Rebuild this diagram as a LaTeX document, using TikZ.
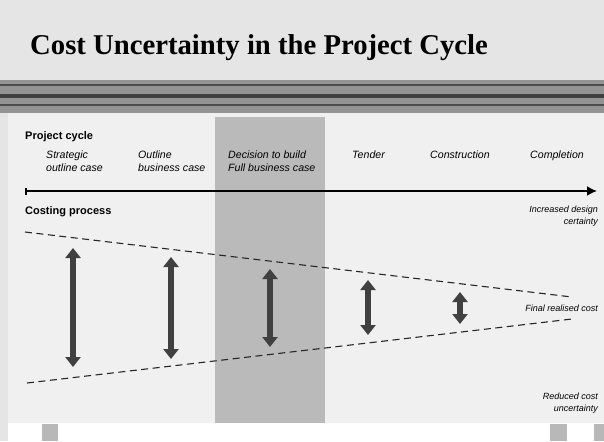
\documentclass[tikz,border=0pt]{standalone}
\usepackage{fontspec}
\setmainfont{Liberation Sans}
\newfontfamily\titlefont{Liberation Serif}
\usetikzlibrary{arrows.meta,positioning}

\begin{document}
\begin{tikzpicture}[x=1pt, y=-1pt,
	phase/.style = {anchor=north west, inner sep=0pt, align=left, font=\fontsize{10.6}{12.8}\selectfont\itshape},
	note/.style = {anchor=north east, inner sep=0pt, align=right, font=\fontsize{9}{12}\selectfont\itshape},
	heading/.style = {anchor=base west, inner sep=0pt, font=\fontsize{11}{13}\selectfont\bfseries},
	spread/.style = {line width=6pt, black!75, {Triangle[width=15pt,length=10pt]}-{Triangle[width=15pt,length=10pt]}},
	bound/.style = {dash pattern=on 7pt off 4.5pt, line width=1.1pt, black!85}]
	\useasboundingbox (0,0) rectangle (604,441);
	% slide background
	\fill[black!10] (0,0) rectangle (604,441);
	\fill[black!6] (8,113) rectangle (604,423);
	\fill[white] (8,423) rectangle (604,441);
	\fill[black!28] (42,424) rectangle (58,441);
	\fill[black!28] (550,424) rectangle (567,441);
	\fill[black!28] (594,424) rectangle (604,441);
	% band under the title
	\fill[black!42] (0,80) rectangle (604,113);
	\draw[black!70, line width=1.5pt] (0,85) -- (604,85);
	\draw[black!75, line width=4pt] (0,96) -- (604,96);
	\draw[black!70, line width=1.5pt] (0,105) -- (604,105);
	% decision stage
	\fill[black!27] (215,117) rectangle (325,423);

	\node[anchor=base west, inner sep=0pt, font=\titlefont\bfseries\fontsize{28.7}{32}\selectfont] (title) at (30,55) {Cost Uncertainty in the Project Cycle};

	\node[heading] (cycle) at (25,139) {Project cycle};
	\node[phase] (soc) at (46,151) {Strategic\\outline case};
	\node[phase] (obc) at (138,151) {Outline\\business case};
	\node[phase] (fbc) at (228,151) {Decision to build\\Full business case};
	\node[phase] (tender) at (352,151) {Tender};
	\node[phase] (build) at (430,151) {Construction};
	\node[phase] (done) at (530,151) {Completion};

	\coordinate (t0) at (25,191);
	\coordinate (t1) at (597,191);
	\draw[line width=1.8pt, {Bar[width=7pt]}-{Latex[length=10pt,width=10pt]}] (t0) -- (t1);

	\node[heading] (costing) at (25,214) {Costing process};
	\node[note] (design) at (598,206) {Increased design\\certainty};
	\node[note] (final) at (598,305) {Final realised cost};
	\node[note] (reduced) at (598,393) {Reduced cost\\uncertainty};

	\coordinate (hi0) at (25,232);
	\coordinate (hi1) at (572,297);
	\coordinate (lo0) at (27,383);
	\coordinate (lo1) at (572,319);
	\draw[bound] (hi0) -- (hi1);
	\draw[bound] (lo0) -- (lo1);

	\coordinate (u1) at (73,248);
	\coordinate (d1) at (73,367);
	\coordinate (u2) at (171,257);
	\coordinate (d2) at (171,359);
	\coordinate (u3) at (270,269);
	\coordinate (d3) at (270,347);
	\coordinate (u4) at (368,280);
	\coordinate (d4) at (368,335);
	\coordinate (u5) at (460,292);
	\coordinate (d5) at (460,324);
	\draw[spread] (u1) -- (d1);
	\draw[spread] (u2) -- (d2);
	\draw[spread] (u3) -- (d3);
	\draw[spread] (u4) -- (d4);
	\draw[spread] (u5) -- (d5);
\end{tikzpicture}
\end{document}
